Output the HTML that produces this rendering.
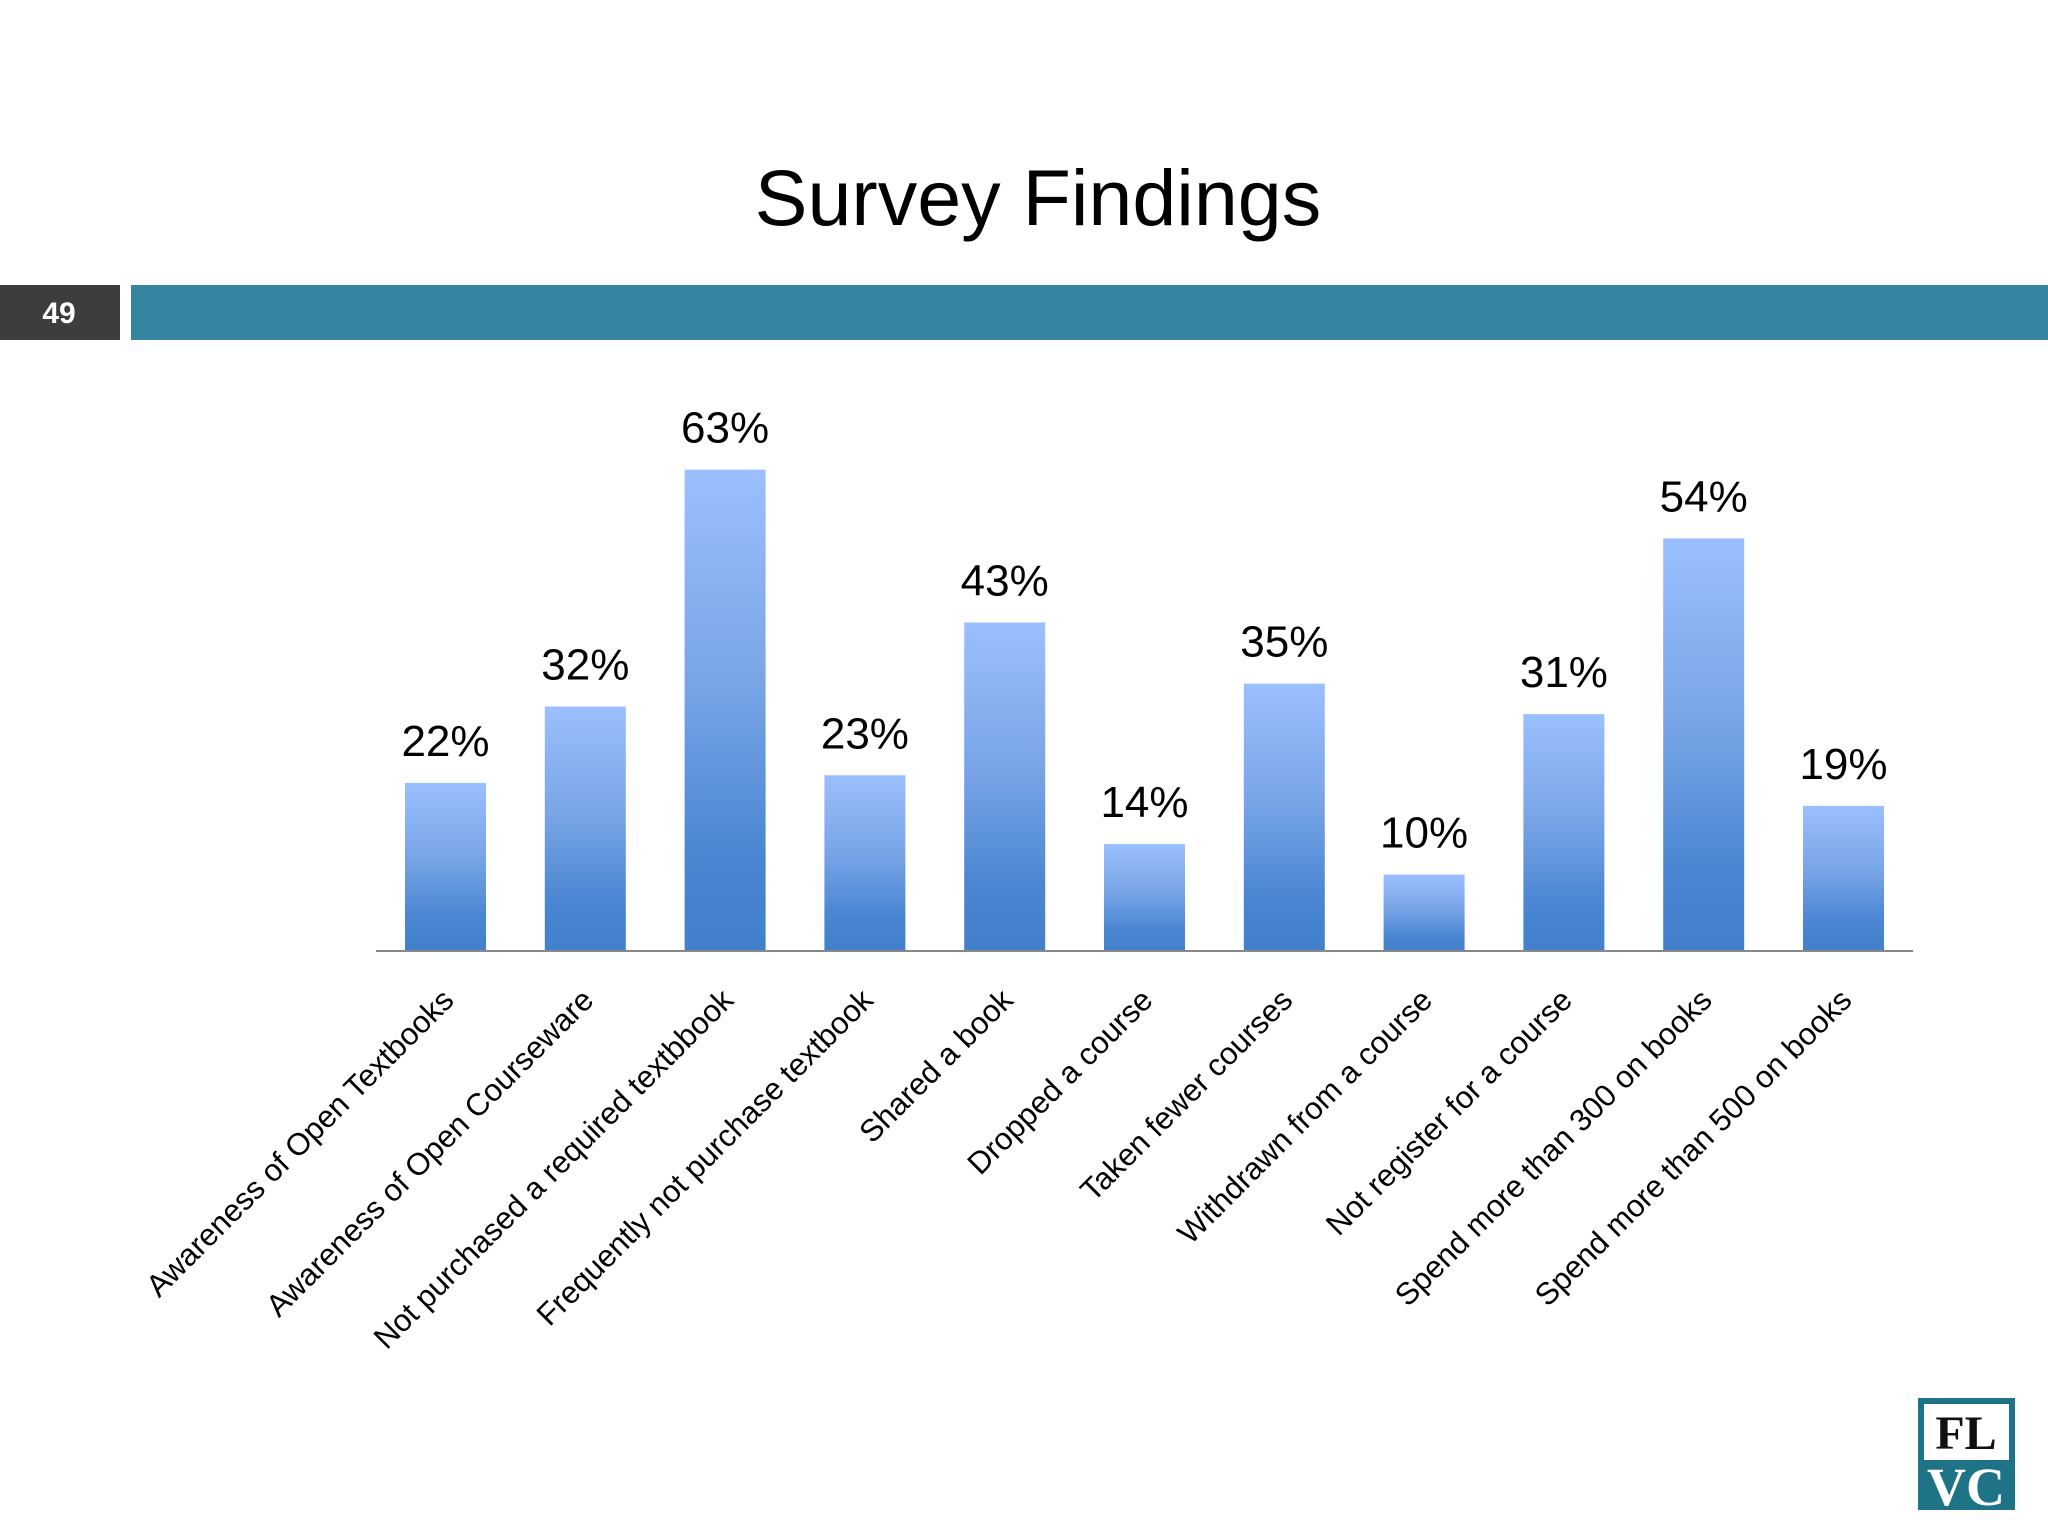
<!DOCTYPE html>
<html><head><meta charset="utf-8"><style>
html,body{margin:0;padding:0;background:#fff;}
svg{display:block;}
</style></head><body>
<svg width="2048" height="1536" viewBox="0 0 2048 1536">
<defs>
<linearGradient id="bg" x1="0" y1="0" x2="0" y2="1">
<stop offset="0" stop-color="#9bbfff"/><stop offset="0.45" stop-color="#78a4e6"/><stop offset="0.8" stop-color="#4a86d2"/><stop offset="1" stop-color="#4280cc"/>
</linearGradient>
</defs>
<text x="1038" y="225" text-anchor="middle" font-family="Liberation Sans, sans-serif" font-size="79" fill="#000">Survey Findings</text>
<rect x="0" y="285" width="120" height="55" fill="#3d3d3d"/>
<text x="59" y="323" text-anchor="middle" font-family="Liberation Sans, sans-serif" font-weight="bold" font-size="30" fill="#fff">49</text>
<rect x="131" y="285" width="1917" height="55" fill="#3585a0"/>
<g id="chart"></g>
<line x1="376" y1="951" x2="1913" y2="951" stroke="#888" stroke-width="2"/>
<g>
<rect x="1918" y="1398" width="97" height="112" fill="#1f7386"/>
<rect x="1924" y="1404" width="85" height="56" fill="#fff"/>
<text x="1966" y="1449" text-anchor="middle" font-family="Liberation Serif, serif" font-weight="bold" font-size="48" fill="#111">FL</text>
<text x="1966" y="1505" text-anchor="middle" font-family="Liberation Serif, serif" font-weight="bold" font-size="54" fill="#fff">VC</text>
</g>
</svg>
<script>
const categories=["Awareness of Open Textbooks","Awareness of Open Courseware","Not purchased a required textbbook","Frequently not purchase textbook","Shared a book","Dropped a course","Taken fewer courses","Withdrawn from a course","Not register for a course","Spend more than 300 on books","Spend more than 500 on books"];
const values=[22,32,63,23,43,14,35,10,31,54,19];
const valueLabels=["22%","32%","63%","23%","43%","14%","35%","10%","31%","54%","19%"];
const NS="http://www.w3.org/2000/svg";
const g=document.getElementById('chart');
const base=951, pxPer=7.64, x0=445.5, step=139.8, bw=81;
const xPos=i=>x0+i*step;
const yPos=v=>base-v*pxPer;
values.forEach((v,i)=>{
  const cx=xPos(i);
  const r=document.createElementNS(NS,'rect');
  r.setAttribute('x',cx-bw/2);r.setAttribute('y',yPos(v));
  r.setAttribute('width',bw);r.setAttribute('height',base-yPos(v));
  r.setAttribute('fill','url(#bg)');
  
  
  g.appendChild(r);
  const t=document.createElementNS(NS,'text');
  t.setAttribute('x',cx);t.setAttribute('y',yPos(v)-27);
  t.setAttribute('text-anchor','middle');
  t.setAttribute('font-family','Liberation Sans, sans-serif');
  t.setAttribute('font-size','44');
  t.textContent=valueLabels[i];
  
  
  g.appendChild(t);
  const c=document.createElementNS(NS,'text');
  c.setAttribute('text-anchor','end');
  c.setAttribute('font-family','Liberation Sans, sans-serif');
  c.setAttribute('font-size','31');
  c.setAttribute('transform','translate('+(cx+10)+',1002) rotate(-45)');
  c.textContent=categories[i];
  
  
  g.appendChild(c);
});
</script>
</body></html>
